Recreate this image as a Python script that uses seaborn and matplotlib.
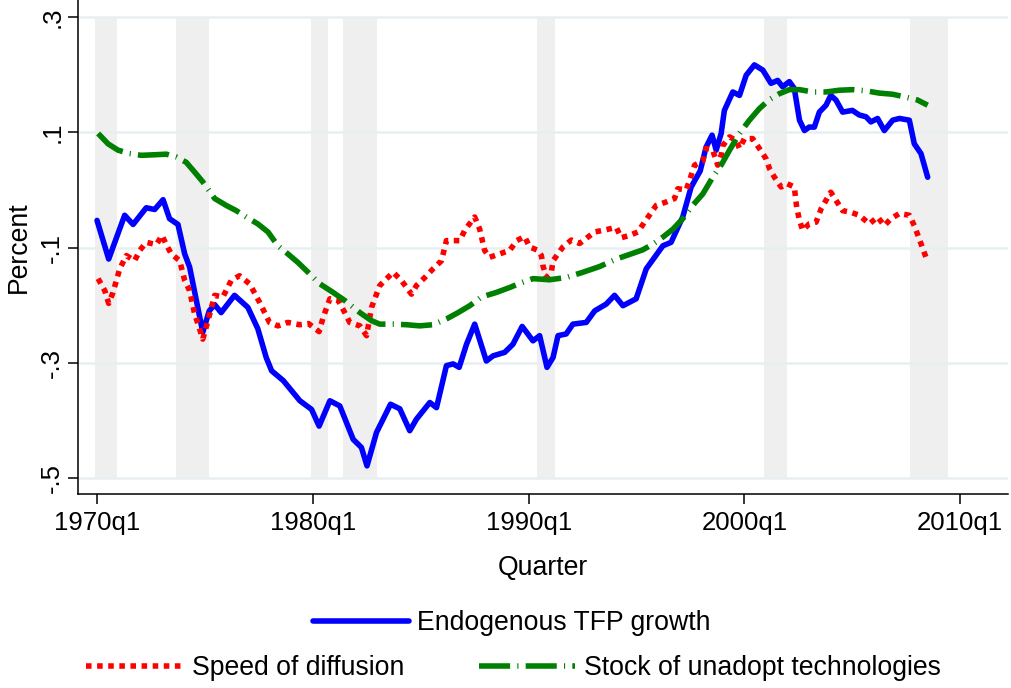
import numpy as np
import pandas as pd
import matplotlib
matplotlib.use("Agg")
import matplotlib.pyplot as plt
import seaborn as sns

# ---------------- data ----------------
tfp_t = [1970.0, 1970.54, 1971.28, 1971.67, 1972.28, 1972.67, 1973.06, 1973.36, 1973.75, 1974.06,
         1974.29, 1974.9, 1975.2, 1975.45, 1975.75, 1976.37, 1976.99, 1977.45, 1977.84, 1978.09,
         1978.63, 1979.4, 1979.94, 1980.29, 1980.79, 1981.25, 1981.87, 1982.25, 1982.51, 1982.95,
         1983.6, 1984.03, 1984.49, 1984.8, 1985.42, 1985.73, 1986.19, 1986.5, 1986.78, 1987.12,
         1987.5, 1988.04, 1988.35, 1988.89, 1989.27, 1989.7, 1990.2, 1990.51, 1990.85, 1991.13,
         1991.36, 1991.74, 1992.05, 1992.67, 1993.06, 1993.6, 1993.98, 1994.37, 1994.98, 1995.45,
         1996.22, 1996.6, 1997.14, 1997.53, 1997.95, 1998.22, 1998.5, 1998.69, 1998.92, 1999.07,
         1999.46, 1999.77, 2000.08, 2000.46, 2000.85, 2001.23, 2001.54, 2001.77, 2002.08, 2002.31,
         2002.55, 2002.78, 2003.0, 2003.24, 2003.47, 2003.78, 2004.0, 2004.24, 2004.55, 2005.0,
         2005.32, 2005.63, 2005.86, 2006.17, 2006.48, 2006.87, 2007.18, 2007.64, 2007.87, 2008.18,
         2008.49]
tfp_v = [-0.053, -0.12, -0.044, -0.06, -0.031, -0.034, -0.017, -0.050, -0.06, -0.111,
         -0.134, -0.247, -0.21, -0.199, -0.213, -0.183, -0.204, -0.241, -0.291, -0.314,
         -0.331, -0.366, -0.381, -0.410, -0.366, -0.375, -0.433, -0.447, -0.479, -0.421,
         -0.372, -0.380, -0.418, -0.398, -0.369, -0.378, -0.305, -0.302, -0.308, -0.268,
         -0.233, -0.297, -0.288, -0.282, -0.268, -0.237, -0.262, -0.253, -0.308, -0.291,
         -0.253, -0.250, -0.233, -0.230, -0.210, -0.198, -0.183, -0.201, -0.189, -0.137,
         -0.097, -0.091, -0.047, 0.005, 0.033, 0.074, 0.095, 0.069, 0.098, 0.138,
         0.170, 0.164, 0.199, 0.217, 0.208, 0.185, 0.190, 0.179, 0.188, 0.176,
         0.121, 0.103, 0.109, 0.109, 0.135, 0.147, 0.164, 0.156, 0.135, 0.138,
         0.130, 0.127, 0.118, 0.124, 0.103, 0.121, 0.124, 0.121, 0.080, 0.063,
         0.022]

speed_t = [1970.05, 1970.36, 1970.54, 1970.74, 1971.05, 1971.36, 1971.74, 1971.98, 1972.28, 1972.75,
           1973.01, 1973.21, 1973.44, 1973.83, 1974.06, 1974.29, 1974.52, 1974.68, 1974.9, 1975.14,
           1975.45, 1975.83, 1976.22, 1976.6, 1977.07, 1977.53, 1977.99, 1978.38, 1978.84, 1979.38,
           1979.8, 1980.29, 1980.48, 1980.79, 1981.18, 1981.48, 1981.71, 1982.18, 1982.49, 1982.72,
           1983.1, 1983.72, 1984.1, 1984.57, 1984.8, 1985.19, 1985.57, 1985.96, 1986.19, 1986.81,
           1987.04, 1987.5, 1987.73, 1987.96, 1988.19, 1988.66, 1989.12, 1989.45, 1989.81, 1990.05,
           1990.43, 1990.59, 1990.66, 1990.82, 1991.05, 1991.13, 1991.59, 1991.98, 1992.36, 1993.06,
           1993.6, 1994.06, 1994.29, 1994.68, 1995.06, 1995.37, 1995.91, 1996.37, 1996.76, 1996.91,
           1997.3, 1997.45, 1997.69, 1998.07, 1998.22, 1998.53, 1998.76, 1998.92, 1999.0, 1999.31,
           1999.61, 1999.77, 2000.0, 2000.38, 2000.69, 2001.0, 2001.16, 2001.39, 2001.7, 2001.96,
           2002.31, 2002.42, 2002.55, 2002.7, 2003.0, 2003.32, 2003.55, 2003.78, 2004.0, 2004.24,
           2004.55, 2004.94, 2005.32, 2005.79, 2006.17, 2006.48, 2006.79, 2007.18, 2007.64, 2007.87,
           2008.1, 2008.41]
speed_v = [-0.154, -0.175, -0.197, -0.178, -0.137, -0.114, -0.123, -0.105, -0.091, -0.095,
           -0.079, -0.095, -0.111, -0.123, -0.157, -0.175, -0.215, -0.233, -0.259, -0.227,
           -0.183, -0.186, -0.157, -0.149, -0.163, -0.195, -0.230, -0.236, -0.230, -0.234,
           -0.232, -0.246, -0.221, -0.189, -0.192, -0.213, -0.230, -0.236, -0.253, -0.204,
           -0.166, -0.143, -0.157, -0.181, -0.166, -0.152, -0.137, -0.123, -0.088, -0.088,
           -0.070, -0.047, -0.068, -0.105, -0.117, -0.111, -0.105, -0.088, -0.081, -0.099,
           -0.105, -0.114, -0.131, -0.152, -0.143, -0.123, -0.099, -0.087, -0.093, -0.073,
           -0.069, -0.065, -0.083, -0.079, -0.073, -0.056, -0.027, -0.021, -0.015, 0.002,
           0.0, 0.016, 0.043, 0.050, 0.072, 0.069, 0.043, 0.060, 0.077, 0.092,
           0.086, 0.072, 0.089, 0.089, 0.072, 0.054, 0.037, 0.022, 0.005, 0.011,
           0.005, -0.030, -0.053, -0.070, -0.059, -0.056, -0.033, -0.018, -0.004, -0.018,
           -0.036, -0.039, -0.044, -0.059, -0.047, -0.062, -0.050, -0.041, -0.044, -0.062,
           -0.085, -0.117]

stock_t = [1970.05, 1970.51, 1970.97, 1971.51, 1972.05, 1972.67, 1973.21, 1973.67, 1974.13, 1974.52,
           1974.9, 1975.45, 1975.99, 1976.45, 1976.91, 1977.45, 1977.92, 1978.38, 1978.84, 1979.31,
           1979.78, 1980.32, 1980.94, 1981.48, 1982.18, 1982.72, 1983.1, 1983.72, 1984.34, 1984.95,
           1985.57, 1986.19, 1986.73, 1987.27, 1987.81, 1988.5, 1989.15, 1989.6, 1990.2, 1990.97,
           1991.74, 1992.51, 1993.29, 1994.06, 1994.68, 1995.29, 1995.76, 1996.22, 1996.69, 1997.14,
           1997.6, 1998.07, 1998.53, 1998.95, 1999.31, 1999.77, 2000.23, 2000.69, 2001.16, 2001.62,
           2002.08, 2002.55, 2003.16, 2003.78, 2004.4, 2005.02, 2005.63, 2006.25, 2006.87, 2007.48,
           2008.02, 2008.49]
stock_v = [0.098, 0.080, 0.069, 0.063, 0.060, 0.061, 0.062, 0.057, 0.048, 0.031,
           0.014, -0.015, -0.027, -0.036, -0.047, -0.059, -0.073, -0.097, -0.111, -0.126,
           -0.143, -0.163, -0.178, -0.192, -0.213, -0.227, -0.233, -0.233, -0.234, -0.236,
           -0.234, -0.224, -0.213, -0.201, -0.186, -0.178, -0.169, -0.162, -0.154, -0.156,
           -0.152, -0.143, -0.133, -0.120, -0.112, -0.104, -0.094, -0.082, -0.068, -0.050,
           -0.027, -0.007, 0.022, 0.045, 0.069, 0.098, 0.121, 0.141, 0.157, 0.167,
           0.174, 0.174, 0.170, 0.170, 0.173, 0.174, 0.172, 0.168, 0.166, 0.161,
           0.156, 0.147]

rec_start = [1969.91, 1973.66, 1979.92, 1981.40, 1990.39, 2000.92, 2007.68]
rec_end = [1970.93, 1975.19, 1980.71, 1982.98, 1991.21, 2001.96, 2009.44]

x_ticks = [1970, 1980, 1990, 2000, 2010]
x_ticklabels = ["1970q1", "1980q1", "1990q1", "2000q1", "2010q1"]
y_ticks = [-0.5, -0.3, -0.1, 0.1, 0.3]
y_ticklabels = ["-.5", "-.3", "-.1", ".1", ".3"]

labels = ["Endogenous TFP growth", "Speed of diffusion", "Stock of unadopt technologies"]

# ---------------- style ----------------
sns.set_theme(style="white")
plt.rcParams["font.family"] = ["Liberation Sans", "DejaVu Sans"]
plt.rcParams["text.color"] = "black"
plt.rcParams["axes.labelcolor"] = "black"
plt.rcParams["xtick.color"] = "black"
plt.rcParams["ytick.color"] = "black"
FS = 18.5
LFS = 19.2

fig = plt.figure(figsize=(10.11, 6.88), dpi=100)
ax = fig.add_axes([0.0772, 0.282, 0.92, 0.718])

# recession bands
for s, e in zip(rec_start, rec_end):
    ax.fill_between([s, e], y_ticks[0], y_ticks[-1], color="#efefef", lw=0, zorder=0.2)

df_tfp = pd.DataFrame({"t": tfp_t, "v": tfp_v})
df_speed = pd.DataFrame({"t": speed_t, "v": speed_v})
df_stock = pd.DataFrame({"t": stock_t, "v": stock_v})

sns.lineplot(data=df_tfp, x="t", y="v", ax=ax, color="#0000ff", linewidth=4.0,
             estimator=None, label=labels[0], zorder=3)
sns.lineplot(data=df_speed, x="t", y="v", ax=ax, color="#ff0000", linewidth=4.0,
             linestyle=(0, (1, 1)), estimator=None, label=labels[1], zorder=3)
sns.lineplot(data=df_stock, x="t", y="v", ax=ax, color="#008000", linewidth=4.0,
             linestyle=(0, (5.6, 1.3, 0.2, 1.3)), estimator=None, label=labels[2], zorder=3)

ax.set_xlim(1969.12, 2012.22)
ax.set_ylim(-0.5278, 0.3296)

ax.set_xticks(x_ticks)
ax.set_xticklabels(x_ticklabels, fontsize=FS, color="black")
ax.set_yticks(y_ticks)
ax.set_yticklabels(y_ticklabels, fontsize=FS, rotation=90, va="center", color="black")

ax.set_axisbelow(True)
ax.yaxis.grid(True, color="#e8eff1", linewidth=1.8, zorder=0.5)
ax.xaxis.grid(False)

for sp in ["top", "right"]:
    ax.spines[sp].set_visible(False)
for sp in ["left", "bottom"]:
    ax.spines[sp].set_color("black")
    ax.spines[sp].set_linewidth(1.1)

ax.tick_params(axis="both", direction="out", length=7, width=1.1, color="black",
               left=True, bottom=True, labelcolor="black")
ax.tick_params(axis="x", pad=5)
ax.tick_params(axis="y", pad=3)

ax.set_xlabel("Quarter", fontsize=LFS, labelpad=15, color="black")
ax.set_ylabel("Percent", fontsize=LFS, labelpad=6, color="black")

handles, lbls = ax.get_legend_handles_labels()
ax.get_legend().remove()

leg1 = fig.legend([handles[0]], [lbls[0]], loc="center", bbox_to_anchor=(0.506, 0.094),
                  frameon=False, fontsize=LFS, handlelength=3.6, handletextpad=0.3,
                  labelcolor="black")
leg2 = fig.legend(handles[1:], lbls[1:], loc="center", bbox_to_anchor=(0.508, 0.029),
                  ncol=2, frameon=False, fontsize=LFS, handlelength=3.6, handletextpad=0.35,
                  columnspacing=2.8, labelcolor="black")

fig.savefig("out.png", dpi=100)
